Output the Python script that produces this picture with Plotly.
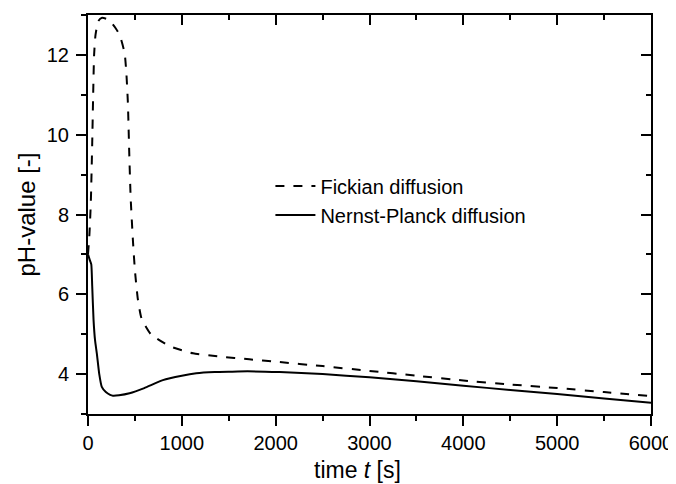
import plotly.graph_objects as go

# Fickian diffusion (dashed)
t_fick = [0, 15, 30, 45, 55, 65, 80, 110, 150, 220, 300, 340, 390, 410, 425,
          440, 455, 480, 500, 530, 570, 670, 870, 1120, 1400, 1720, 2000,
          2500, 3000, 3500, 4000, 4500, 5000, 5500, 6000]
ph_fick = [7.0, 7.5, 8.3, 9.8, 11.0, 12.0, 12.5, 12.85, 12.93, 12.88, 12.65,
           12.48, 12.05, 11.5, 10.8, 9.5, 8.4, 7.3, 6.6, 5.9, 5.4, 5.0, 4.7,
           4.52, 4.44, 4.37, 4.31, 4.2, 4.08, 3.96, 3.84, 3.74, 3.65, 3.55, 3.45]

# Nernst-Planck diffusion (solid)
t_np = [0, 20, 35, 45, 59, 75, 94, 120, 147, 190, 236, 265, 330, 443, 600,
        798, 1000, 1154, 1350, 1509, 1700, 2043, 2500, 3000, 3500, 4000,
        4500, 5000, 5500, 6000]
ph_np = [7.0, 6.85, 6.75, 6.2, 5.36, 4.85, 4.52, 4.0, 3.68, 3.55, 3.48, 3.46,
         3.47, 3.52, 3.65, 3.85, 3.96, 4.02, 4.05, 4.06, 4.07, 4.05, 4.0, 3.92,
         3.82, 3.71, 3.6, 3.5, 3.39, 3.28]

x_ticks = [0, 1000, 2000, 3000, 4000, 5000, 6000]
y_ticks = [4, 6, 8, 10, 12]

FONT = "Liberation Sans, Arial, sans-serif"

fig = go.Figure()
fig.add_trace(go.Scatter(x=t_fick, y=ph_fick, mode="lines", name="Fickian diffusion",
                         line=dict(color="black", width=2, dash="9px,9px",
                                   shape="spline", smoothing=0.5)))
fig.add_trace(go.Scatter(x=t_np, y=ph_np, mode="lines", name="Nernst-Planck diffusion",
                         line=dict(color="black", width=2, shape="spline", smoothing=0.5)))
# invisible trace to activate top/right axes
fig.add_trace(go.Scatter(x=[0], y=[3], xaxis="x2", yaxis="y2", mode="markers",
                         marker=dict(opacity=0), showlegend=False, hoverinfo="skip"))

axis_common = dict(showgrid=False, zeroline=False, showline=True, linecolor="black",
                   linewidth=2, tickcolor="black", tickwidth=2)

# page body has an 8px margin, so the figure is sized 668x476
fig.update_layout(
    width=668, height=476,
    margin=dict(l=80, r=25, t=7, b=70, autoexpand=False),
    plot_bgcolor="white", paper_bgcolor="white",
    font=dict(family=FONT, size=20, color="black"),
    xaxis=dict(range=[0, 6000], tickmode="array", tickvals=x_ticks,
               ticktext=[str(v) for v in x_ticks], ticks="outside", ticklen=10,
               minor=dict(dtick=500, ticks="outside", ticklen=5, tickwidth=2, tickcolor="black"),
               automargin=False, **axis_common),
    yaxis=dict(range=[3, 13], tickmode="array", tickvals=y_ticks,
               ticktext=[str(v) for v in y_ticks], ticks="outside", ticklen=10,
               ticklabelstandoff=3,
               minor=dict(dtick=1, tick0=3, ticks="outside", ticklen=5, tickwidth=2, tickcolor="black"),
               title=dict(text="pH-value [-]", standoff=4),
               automargin=False, **axis_common),
    xaxis2=dict(range=[0, 6000], overlaying="x", side="top", tickvals=x_ticks,
                showticklabels=False, ticks="inside", ticklen=10,
                minor=dict(dtick=500, ticks="inside", ticklen=5, tickwidth=2, tickcolor="black"),
                **axis_common),
    yaxis2=dict(range=[3, 13], overlaying="y", side="right", tickvals=y_ticks,
                showticklabels=False, ticks="inside", ticklen=10,
                minor=dict(dtick=1, tick0=3, ticks="inside", ticklen=5, tickwidth=2, tickcolor="black"),
                **axis_common),
    legend=dict(x=0.324, y=0.62, xanchor="left", yanchor="top", bgcolor="rgba(0,0,0,0)",
                font=dict(size=20), itemwidth=40, tracegroupgap=0),
    showlegend=True,
    annotations=[dict(text="time <i>t</i> [s]", xref="paper", yref="paper",
                      x=0.479, y=-0.14, xanchor="center", yanchor="middle",
                      showarrow=False, font=dict(family=FONT, size=23, color="black"))],
)

fig.write_html("out.html")
